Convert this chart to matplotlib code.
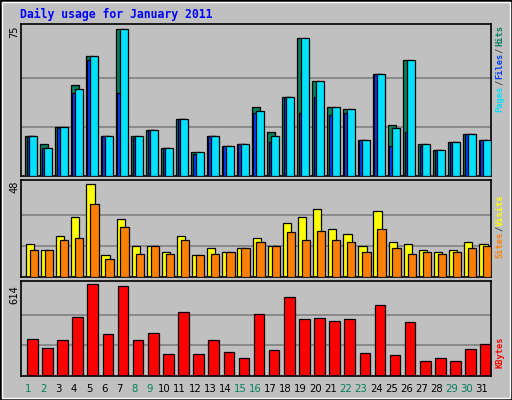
import matplotlib
matplotlib.use("Agg")
import matplotlib.pyplot as plt
from matplotlib.patches import Rectangle
import numpy as np

days = list(range(1, 32))
weekend = [1, 2, 8, 9, 15, 16, 22, 23, 29, 30]
hits = [20.4,16.3,25,46.4,61.4,20.4,75,20.4,23.5,14.3,29.1,12.2,20.4,15.3,16.3,35.2,22.4,40.3,70.4,48.5,35.2,34.2,18.4,52,26,59.2,16.3,13.3,17.3,21.4,18.4]
files = [20.4,14.3,25,44.3,61.4,20.4,75,20.4,23.5,14.3,29.1,12.2,20.4,15.3,16.3,33.2,20.4,40.3,70.4,48.5,35.2,34.2,18.4,52,24.5,59.2,16.3,13.3,17.3,21.4,18.4]
pages = [20.4,14.3,24.5,42.3,59.2,20.4,42.3,19.4,23.5,14.3,29.1,11.2,20.4,15.3,16.3,32.2,17.3,40.3,32.2,40.3,31.2,32.2,18.4,52,15.3,22.4,15.3,13.3,17.3,21.4,18.4]
visits = [17.2,14.1,21.4,31.3,48,11.5,30.3,16.2,16.2,13,21.4,11.5,15.1,13,15.1,20.3,16.2,28.2,31.3,35.5,25,22.4,16.2,34.4,18.3,17.2,14.1,13,14.1,18.3,17.2]
sites = [14.1,14.1,19.3,20.3,38.1,9.4,26.1,12,16.2,12,19.3,11.5,12,13,15.1,18.3,16.2,23.5,19.3,24,19.3,18.3,13,25,15.1,12,13,12,13,15.1,16.2]
kbytes = [251,190,244,392,614,278,601,238,285,150,426,150,244,164,123,412,177,527,379,385,365,379,157,473,143,359,103,123,103,184,211]

W, H = 512, 400
fig = plt.figure(figsize=(5.12, 4.0), dpi=100)
fig.patch.set_facecolor("#C0C0C0")
fig.add_artist(Rectangle((0, 0), 1, 1, transform=fig.transFigure, fill=False, ec="black", lw=2))
fig.add_artist(Rectangle((2/W, 2/H), 1-4/W, 1-4/H, transform=fig.transFigure, fill=False, ec="white", lw=1))

x = np.array(days, dtype=float)
left, width = 21/W, 470/W

def mkax(top, bot, ymax, grids):
    ax = fig.add_axes([left, 1-bot/H, width, (bot-top)/H])
    ax.set_facecolor("#C0C0C0")
    ax.set_xlim(0.5, 31.6)
    ax.set_ylim(0, ymax)
    ax.set_xticks([]); ax.set_yticks([])
    for g in grids:
        ax.axhline(g, color="#808080", lw=1.2, zorder=0)
    for s in ax.spines.values():
        s.set_color("black"); s.set_linewidth(1.2)
    return ax

kw = dict(align="edge", edgecolor="black", linewidth=0.9)
ax1 = mkax(24, 176, 77.5, [25, 50])
ax1.bar(x - 0.22, hits, width=0.53, color="#00805C", zorder=2, **kw)
ax1.bar(x - 0.12, pages, width=0.53, color="#0040FF", zorder=3, **kw)
ax1.bar(x + 0.05, files, width=0.53, color="#00E0FF", zorder=4, **kw)

ax2 = mkax(180, 277, 50.3, [16, 32])
ax2.bar(x - 0.18, visits, width=0.55, color="#FFFF00", zorder=2, **kw)
ax2.bar(x + 0.08, sites, width=0.55, color="#FF8000", zorder=3, **kw)

ax3 = mkax(281, 376, 636, [204.7, 409.3])
ax3.bar(x - 0.1, kbytes, width=0.7, color="#FF0000", zorder=2, **kw)

fig.text(20/W, 1-14/H, "Daily usage for January 2011", color="#0000FF",
         family="DejaVu Sans Mono", weight="bold", fontsize=8.3, va="center", ha="left")

for txt, y in [("75", 32), ("48", 187), ("614", 295)]:
    fig.text(14/W, 1-y/H, txt, rotation=90, ha="center", va="center",
             family="DejaVu Sans Mono", fontsize=7.5, color="black")

def rlab(txt, y, c):
    fig.text(500/W, 1-y/H, txt, rotation=90, ha="center", va="center",
             family="DejaVu Sans Mono", fontsize=6.3, weight="bold", color=c)

rlab("Hits", 35, "#00805C"); rlab("/", 50, "#404040"); rlab("Files", 66, "#0040FF")
rlab("/", 82, "#404040"); rlab("Pages", 99, "#00E0FF")
rlab("Visits", 210, "#FFFF00"); rlab("/", 228, "#404040"); rlab("Sites", 245, "#FF8000")
rlab("KBytes", 352, "#FF0000")

for d in days:
    xp = (21 + (d - 0.5) / 31.1 * 470) / W
    fig.text(xp, 1-389/H, str(d), ha="center", va="center", fontsize=7.3,
             family="DejaVu Sans", color="#00805C" if d in weekend else "black")

fig.savefig("out.png", dpi=100, facecolor=fig.get_facecolor())
